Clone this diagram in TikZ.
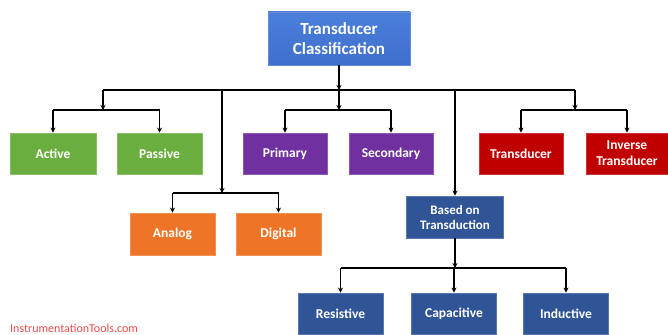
\documentclass[tikz,border=0pt]{standalone}
\usepackage{fontspec}
\setmainfont{Carlito}
\usetikzlibrary{arrows.meta}
\definecolor{rootblue}{HTML}{3F6FCC}
\definecolor{rootblueL}{HTML}{4A7FDB}
\definecolor{cgreen}{HTML}{6AAE3F}
\definecolor{cpurple}{HTML}{7030A0}
\definecolor{corange}{HTML}{EE7428}
\definecolor{cred}{HTML}{C00000}
\definecolor{cdblue}{HTML}{2F5597}
\definecolor{wmred}{HTML}{EE4B4B}
\tikzset{
  box/.style={draw=#1!80!white, line width=0.8pt, fill=#1, text=white, font=\bfseries\fontsize{13.5}{15}\selectfont,
    minimum height=41pt, inner sep=1pt, align=center},
  conn/.style={line width=1.7pt, black},
  arr/.style={conn, -{Stealth[length=5pt,width=5pt]}},
}
\begin{document}
\begin{tikzpicture}[x=1pt,y=-1pt]
\useasboundingbox (0,0) rectangle (668,334);
% root
\node[box=rootblue, top color=rootblueL, bottom color=rootblue, minimum width=142pt, minimum height=53pt,
  font=\bfseries\fontsize{17}{20}\selectfont] (root) at (339,38.5) {Transducer\\Classification};
% level 1
\node[box=cgreen, minimum width=86pt] (active) at (53,153.5) {Active};
\node[box=cgreen, minimum width=85pt] (passive) at (159.5,153.5) {Passive};
\node[box=cpurple, minimum width=84pt] (primary) at (285,153.5) {Primary};
\node[box=cpurple, minimum width=84pt] (secondary) at (391,153.5) {Secondary};
\node[box=cred, minimum width=84pt] (trans) at (521,153.5) {Transducer};
\node[box=cred, minimum width=82pt, font=\bfseries\fontsize{13.5}{16}\selectfont] (inv) at (627,153.5) {Inverse\\Transducer};
\node[box=corange, minimum width=85pt, minimum height=42pt] (analog) at (172.5,234) {Analog};
\node[box=corange, minimum width=85pt, minimum height=42pt] (digital) at (278.5,234) {Digital};
\node[box=cdblue, minimum width=97pt, minimum height=42pt, font=\bfseries\fontsize{13}{15}\selectfont] (based) at (455,217) {Based on\\Transduction};
\node[box=cdblue, minimum width=85pt] (resistive) at (340.5,313.5) {Resistive};
\node[box=cdblue, minimum width=85pt] (capacitive) at (454,313.5) {Capacitive};
\node[box=cdblue, minimum width=85pt] (inductive) at (566,313.5) {Inductive};
% coordinates
\coordinate (b1c) at (339,90);
\coordinate (b1l) at (103,90);
\coordinate (b1a) at (222,90);
\coordinate (b1b) at (455,90);
\coordinate (b1r) at (575,90);
\coordinate (g1) at (103,110);
\coordinate (g1l) at (53,110);
\coordinate (g1r) at (159.5,110);
\coordinate (g2) at (339,110);
\coordinate (g2l) at (285,110);
\coordinate (g2r) at (391,110);
\coordinate (g3) at (575,110);
\coordinate (g3l) at (521,110);
\coordinate (g3r) at (627,110);
\coordinate (g4) at (222,193);
\coordinate (g4l) at (172.5,193);
\coordinate (g4r) at (278.5,193);
\coordinate (g5) at (455,268);
\coordinate (g5l) at (340.5,268);
\coordinate (g5c) at (454,268);
\coordinate (g5r) at (566,268);
% connectors
\draw[arr] (root.south) -- (b1c);
\draw[conn] (b1l) -- (b1r);
\draw[arr] (b1l) -- (g1);
\draw[conn] (g1l) -- (g1r);
\draw[arr] (g1l) -- (active.north);
\draw[arr] (g1r) -- (passive.north);
\draw[arr] (b1c) -- (g2);
\draw[conn] (g2l) -- (g2r);
\draw[arr] (g2l) -- (primary.north);
\draw[arr] (g2r) -- (secondary.north);
\draw[arr] (b1r) -- (g3);
\draw[conn] (g3l) -- (g3r);
\draw[arr] (g3l) -- (trans.north);
\draw[arr] (g3r) -- (inv.north);
\draw[arr] (b1a) -- (g4);
\draw[conn] (g4l) -- (g4r);
\draw[arr] (g4l) -- (analog.north);
\draw[arr] (g4r) -- (digital.north);
\draw[arr] (b1b) -- (based.north);
\draw[arr] (based.south) -- (g5);
\draw[conn] (g5l) -- (g5r);
\draw[arr] (g5l) -- (resistive.north);
\draw[arr] (g5c) -- (capacitive.north);
\draw[arr] (g5r) -- (inductive.north);
% watermark
\node[anchor=west, text=wmred, font=\fontsize{12}{13}\selectfont, inner sep=0pt] (wm) at (10,328) {InstrumentationTools.com};
\end{tikzpicture}
\end{document}
